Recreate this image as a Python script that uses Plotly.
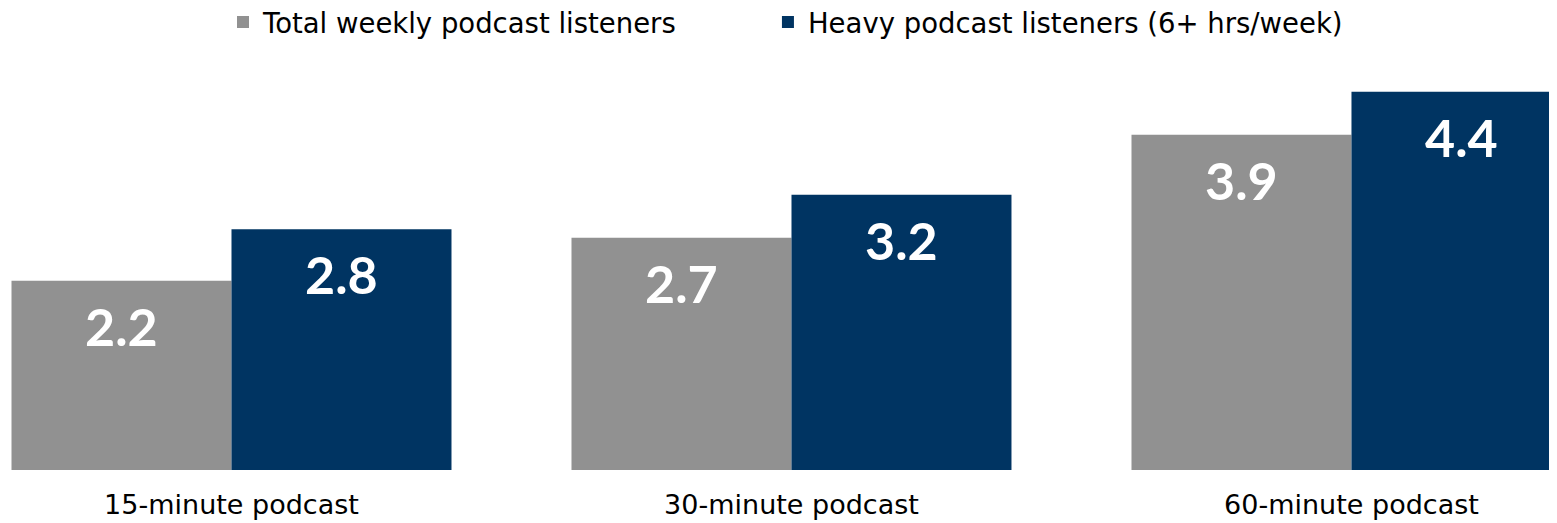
import plotly.graph_objects as go

categories = ["15-minute podcast", "30-minute podcast", "60-minute podcast"]
total_weekly = [2.2, 2.7, 3.9]
heavy = [2.8, 3.2, 4.4]
series_names = ["Total weekly podcast listeners", "Heavy podcast listeners (6+ hrs/week)"]

GRAY = "#919191"
NAVY = "#003462"
FONT = "DejaVu Sans"

fig = go.Figure()
fig.add_trace(go.Bar(x=categories, y=total_weekly, name=series_names[0],
                     marker_color=GRAY, marker_line_width=0, legend="legend"))
fig.add_trace(go.Bar(x=categories, y=heavy, name=series_names[1],
                     marker_color=NAVY, marker_line_width=0, legend="legend2"))

# value labels, sitting a little below the top of each bar
for vals, shift in ((total_weekly, -110), (heavy, 110)):
    for cat, v in zip(categories, vals):
        fig.add_annotation(x=cat, y=v, text=f"{v:.1f}", showarrow=False,
                           xshift=shift, yshift=-45, yanchor="middle",
                           font=dict(family="Lato", size=52, color="white", weight="bold"))

legend_style = dict(orientation="h", xanchor="left", y=1.0795, yanchor="middle",
                    font=dict(size=27.5, family=FONT), bgcolor="rgba(0,0,0,0)",
                    itemclick=False)

fig.update_layout(
    width=1549,
    height=515,
    barmode="group",
    bargap=0.2143,
    bargroupgap=0,
    plot_bgcolor="white",
    paper_bgcolor="white",
    margin=dict(l=0, r=0, t=47, b=53, autoexpand=False),
    font=dict(family=FONT, color="#000000"),
    showlegend=True,
    legend=dict(x=0.1388, **legend_style),
    legend2=dict(x=0.4906, **legend_style),
)
fig.update_xaxes(range=[-0.3991, 2.367], showline=False, showgrid=False, ticks="",
                 tickfont=dict(size=27, family=FONT), ticklabelstandoff=16)
fig.update_yaxes(range=[0, 4.826], visible=False, showgrid=False, zeroline=False)

fig.write_html("out.html")
